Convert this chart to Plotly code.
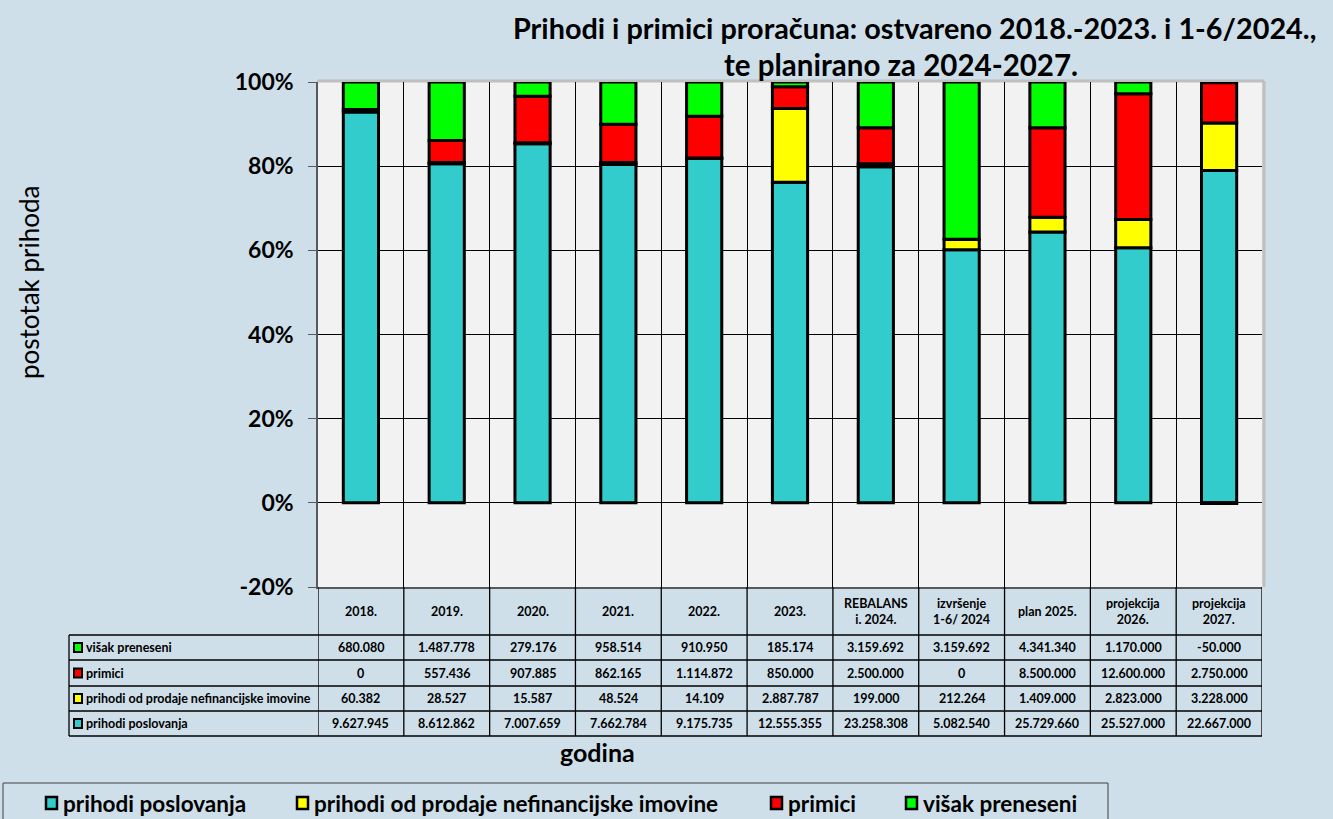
import plotly.graph_objects as go
import numpy as np

# ---------------- data ----------------
categories = ["2018.", "2019.", "2020.", "2021.", "2022.", "2023.",
              "REBALANS i. 2024.", "izvršenje 1-6/ 2024", "plan 2025.",
              "projekcija 2026.", "projekcija 2027."]
category_labels = ["2018.", "2019.", "2020.", "2021.", "2022.", "2023.",
                   "REBALANS<br>i. 2024.", "izvršenje<br>1-6/ 2024", "plan 2025.",
                   "projekcija<br>2026.", "projekcija<br>2027."]

series_names = ["prihodi poslovanja", "prihodi od prodaje nefinancijske imovine",
                "primici", "višak preneseni"]
prihodi_poslovanja = [9627945, 8612862, 7007659, 7662784, 9175735, 12555355,
                      23258308, 5082540, 25729660, 25527000, 22667000]
prihodi_od_prodaje = [60382, 28527, 15587, 48524, 14109, 2887787,
                      199000, 212264, 1409000, 2823000, 3228000]
primici = [0, 557436, 907885, 862165, 1114872, 850000,
           2500000, 0, 8500000, 12600000, 2750000]
visak_preneseni = [680080, 1487778, 279176, 958514, 910950, 185174,
                   3159692, 3159692, 4341340, 1170000, -50000]
series_values = [prihodi_poslovanja, prihodi_od_prodaje, primici, visak_preneseni]
series_colors = ["#33CCCC", "#FFFF00", "#FF0000", "#00FF00"]

y_tick_values = [-20, 0, 20, 40, 60, 80, 100]
y_tick_labels = ["-20%", "0%", "20%", "40%", "60%", "80%", "100%"]

title_lines = ["Prihodi i primici proračuna: ostvareno 2018.-2023. i 1-6/2024.,",
               "te planirano za 2024-2027."]
y_title = "postotak prihoda"
x_title = "godina"

# ---------------- layout constants ----------------
W, H = 1333, 819
L, R, T, B = 318, 1262, 82, 587
FONT = "Lato, Carlito, Calibri, sans-serif"
BG = "#CEDFE9"


def px(x):
    return (x - L) / (R - L)


def py(y):
    return (B - y) / (B - T)


def fmt(v):
    return f"{v:,}".replace(",", ".")


def ann(x, y, text, size, xanchor="center", **kw):
    d = dict(x=x, y=y, text=text, showarrow=False, xanchor=xanchor, yanchor="middle",
             font=dict(family=FONT, size=size, color="black"))
    d.update(kw)
    return d


arr = np.array(series_values, dtype=float)
totals = np.abs(arr).sum(axis=0)
pct = arr / totals * 100

fig = go.Figure()
for name, vals, color in zip(series_names, pct, series_colors):
    fig.add_trace(go.Bar(
        x=categories, y=vals, name=name, width=0.41,
        marker=dict(color=color, line=dict(color="black", width=3)),
        showlegend=False,
    ))

shapes = []
annotations = []

# gray shadow border top/right of plot area
shapes.append(dict(type="line", xref="paper", yref="paper", x0=px(L - 1), x1=px(R + 2),
                   y0=py(T - 1), y1=py(T - 1), line=dict(color="#BFBFBF", width=3), layer="below"))
shapes.append(dict(type="line", xref="paper", yref="paper", x0=px(R + 2), x1=px(R + 2),
                   y0=py(T - 1), y1=py(B), line=dict(color="#BFBFBF", width=3), layer="below"))

# ---------------- table ----------------
row_y = [635, 660, 686, 711, 736]
n = len(categories)
for k in range(n + 1):
    shapes.append(dict(type="line", xref="x", yref="paper", x0=k - 0.5, x1=k - 0.5,
                       y0=py(B), y1=py(row_y[-1]), line=dict(color="black", width=1.3)))
shapes.append(dict(type="line", xref="paper", yref="paper", x0=px(69), x1=px(69),
                   y0=py(row_y[0]), y1=py(row_y[-1]), line=dict(color="black", width=1.3)))
for yy in row_y:
    shapes.append(dict(type="line", xref="paper", yref="paper", x0=px(69), x1=px(R),
                       y0=py(yy), y1=py(yy), line=dict(color="black", width=1.3)))
for k, lab in enumerate(category_labels):
    annotations.append(ann(k, py((B + row_y[0]) / 2), f"<b>{lab}</b>", 12.5,
                           xref="x", yref="paper"))
rows_order = list(range(len(series_names)))[::-1]
for r, si in enumerate(rows_order):
    yc = (row_y[r] + row_y[r + 1]) / 2
    shapes.append(dict(type="rect", xref="paper", yref="paper", x0=px(74), x1=px(82),
                       y0=py(yc + 4.5), y1=py(yc - 4.5),
                       fillcolor=series_colors[si], line=dict(color="black", width=2)))
    annotations.append(ann(px(84), py(yc), f"<b>{series_names[si]}</b>", 12.5,
                           xanchor="left", xref="paper", yref="paper"))
    for k, v in enumerate(series_values[si]):
        annotations.append(ann(k, py(yc), f"<b>{fmt(v)}</b>", 12.5,
                               xref="x", yref="paper"))

# ---------------- titles ----------------
annotations.append(ann(px(914), py(28), f"<b>{title_lines[0]}</b>", 28.8,
                       xref="paper", yref="paper"))
annotations.append(ann(px(901), py(65), f"<b>{title_lines[1]}</b>", 29.5,
                       xref="paper", yref="paper"))
annotations.append(ann(px(29), py(283), y_title, 26, textangle=-90,
                       xref="paper", yref="paper"))
annotations.append(ann(px(597), py(752), f"<b>{x_title}</b>", 25,
                       xref="paper", yref="paper"))

# ---------------- bottom legend ----------------
shapes.append(dict(type="rect", xref="paper", yref="paper", x0=px(3), x1=px(1108),
                   y0=py(783), y1=py(830), line=dict(color="#404040", width=1),
                   fillcolor="rgba(0,0,0,0)"))
legend_x = [46, 297, 771, 906]
for name, color, lx in zip(series_names, series_colors, legend_x):
    shapes.append(dict(type="rect", xref="paper", yref="paper", x0=px(lx), x1=px(lx + 11),
                       y0=py(809), y1=py(797), fillcolor=color,
                       line=dict(color="black", width=2.5)))
    annotations.append(ann(px(lx + 15), py(803), f"<b>{name}</b>", 22.5,
                           xanchor="left", xref="paper", yref="paper"))

fig.update_layout(
    width=W, height=H,
    margin=dict(l=L, r=W - R, t=T, b=H - B, pad=0),
    paper_bgcolor=BG, plot_bgcolor="#F2F2F2",
    barmode="relative", bargap=0.59,
    shapes=shapes, annotations=annotations,
    showlegend=False,
    xaxis=dict(type="category", categoryorder="array", categoryarray=categories,
               range=[-0.5, n - 0.5], tickson="boundaries", showgrid=True,
               gridcolor="black", gridwidth=1, showticklabels=False, ticks="",
               showline=True, linecolor="#595959", linewidth=1.5, zeroline=False),
    yaxis=dict(range=[-20, 100], tickvals=y_tick_values, ticktext=y_tick_labels,
               showgrid=True, gridcolor="black", gridwidth=1, zeroline=False,
               showline=True, linecolor="#595959", linewidth=1.5,
               ticks="outside", ticklen=8, tickcolor="#595959",
               tickfont=dict(family=FONT, size=23, color="black", weight="bold"),
               ticklabelstandoff=10),
)

fig.write_html("out.html", config={"displayModeBar": False},
               post_script="document.body.style.margin='0';document.body.style.background='%s';" % BG)
